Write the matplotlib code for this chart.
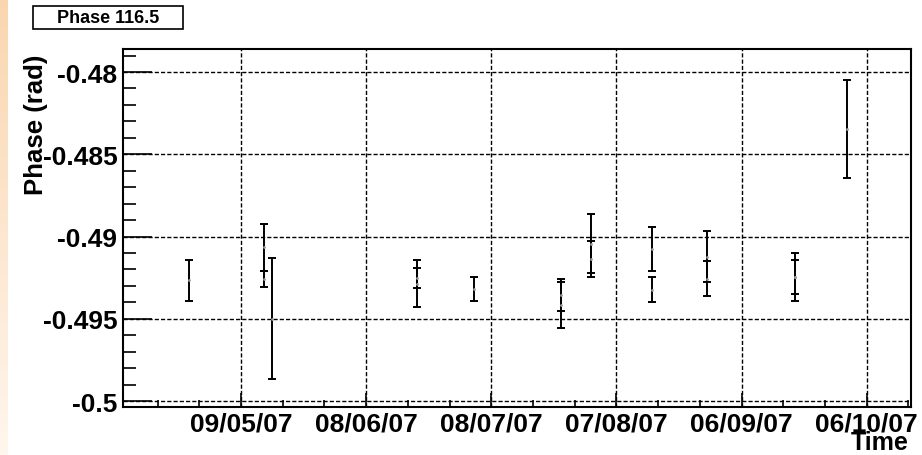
import matplotlib.pyplot as plt
import matplotlib.dates as mdates
import matplotlib.ticker as mticker
from matplotlib.patches import Rectangle
import numpy as np
import pandas as pd

plt.rcParams['font.family'] = ['Liberation Sans', 'DejaVu Sans']
plt.rcParams['font.weight'] = 'bold'

# measurement times (two runs on most days)
times = ['2007-04-26 12:00', '2007-05-14 14:00', '2007-05-14 14:00', '2007-05-16 10:00',
         '2007-06-20 02:00', '2007-06-20 02:00', '2007-07-03 22:00', '2007-07-24 17:00',
         '2007-07-24 17:00', '2007-07-31 19:00', '2007-07-31 19:00', '2007-08-15 14:00',
         '2007-08-15 14:00', '2007-08-28 19:00', '2007-08-28 19:00', '2007-09-18 19:00',
         '2007-09-18 19:00', '2007-10-01 05:00']
phase = [-0.49266, -0.49066, -0.49257, -0.49499,
         -0.49287, -0.49253, -0.49317, -0.49353,
         -0.49416, -0.49043, -0.49137, -0.49078,
         -0.49322, -0.49122, -0.49255, -0.49245,
         -0.49246, -0.48346]
phase_err = [0.00124, 0.00142, 0.00049, 0.00367,
             0.00144, 0.00062, 0.00073, 0.00098,
             0.00141, 0.00179, 0.00108, 0.00134,
             0.00078, 0.00154, 0.00105, 0.00145,
             0.00103, 0.00299]

tick_dates = ['2007-05-09', '2007-06-08', '2007-07-08', '2007-08-07', '2007-09-06', '2007-10-06']
ytick_vals = [-0.5, -0.495, -0.49, -0.485, -0.48]
ytick_labels = ['-0.5', '-0.495', '-0.49', '-0.485', '-0.48']

t = pd.to_datetime(times)
ticks = mdates.date2num(pd.to_datetime(tick_dates))

fig = plt.figure(figsize=(9.22, 4.56), dpi=100)

# peach strip on the left edge
strip = fig.add_axes([0, 0, 7 / 922, 1])
grad = np.linspace(0, 1, 256).reshape(-1, 1, 1)
top = np.array([0.98, 0.84, 0.69])
bot = np.array([1.0, 0.965, 0.93])
strip.imshow(top * (1 - grad) + bot * grad, aspect='auto', extent=[0, 1, 0, 1], origin='upper')
strip.axis('off')

ax = fig.add_axes([123 / 922, 1 - 408 / 456, (911 - 123) / 922, (408 - 50) / 456])
ax.errorbar(t, phase, yerr=phase_err, fmt='.', color='black', ecolor='black',
            markersize=2, markerfacecolor='0.6', markeredgecolor='0.6',
            elinewidth=1.4, capsize=3.2, capthick=1.4)

ax.set_xticks(ticks)
ax.xaxis.set_major_formatter(mdates.DateFormatter('%d/%m/%y'))
ax.set_xticks(np.arange(ticks[0] - 20, ticks[-1] + 11, 10), minor=True)
ax.set_yticks(ytick_vals)
ax.set_yticklabels(ytick_labels)
ax.yaxis.set_minor_locator(mticker.MultipleLocator(0.001))

ax.set_xlim(mdates.date2num(pd.Timestamp('2007-04-10 17:00')),
            mdates.date2num(pd.Timestamp('2007-10-16 15:00')))
ax.set_ylim(-0.50036, -0.4786)

ax.grid(True, which='major', color='black', linestyle=(0, (3, 1.5)), linewidth=1)
ax.tick_params(axis='both', which='both', direction='in', labelsize=19, width=1.2)
ax.tick_params(axis='x', which='major', length=10, pad=3)
ax.tick_params(axis='x', which='minor', length=5)
ax.tick_params(axis='y', which='major', length=21, pad=4)
ax.tick_params(axis='y', which='minor', length=9.5)
for s in ax.spines.values():
    s.set_linewidth(1.5)

fig.text(36 / 922, 1 - 125 / 456, 'Phase (rad)', rotation=90, ha='center', va='center', fontsize=18.5)
fig.text(909 / 922, 6 / 456, 'Time', ha='right', va='baseline', fontsize=18)

# title box
fig.patches.append(Rectangle((33 / 922, 1 - 30 / 456), 150 / 922, 23 / 456,
                             transform=fig.transFigure, facecolor='white',
                             edgecolor='black', linewidth=1.2))
fig.text(108 / 922, 1 - 18.5 / 456, 'Phase 116.5', ha='center', va='center', fontsize=13)

fig.savefig('out.png', dpi=100)
